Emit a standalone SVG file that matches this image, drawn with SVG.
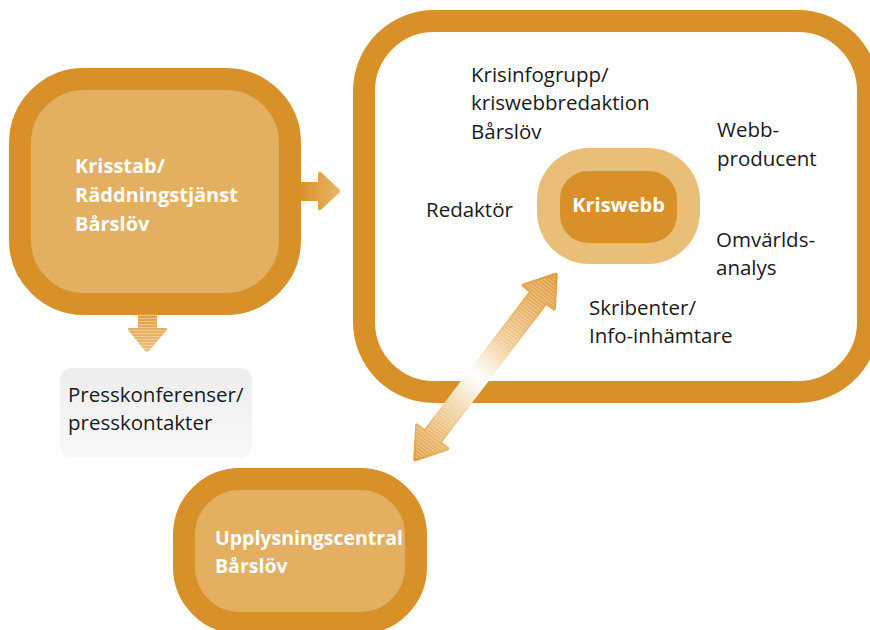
<svg xmlns="http://www.w3.org/2000/svg" width="870" height="630" viewBox="0 0 870 630">
  <defs>
    <style>
      .frame { fill: #E3B062; stroke: #D89128; stroke-width: 22; }
      .frame-open { fill: #FFFFFF; stroke: #D89128; stroke-width: 22; }
      .label-bold { font-family: "Open Sans", "Liberation Sans", sans-serif; font-weight: 700; font-size: 20px; fill: #FFFFFF; }
      .label { font-family: "Open Sans", "Liberation Sans", sans-serif; font-size: 20.5px; fill: #1A1A1A; }
    </style>
    <linearGradient id="gradRight" x1="300" y1="0" x2="342" y2="0" gradientUnits="userSpaceOnUse">
      <stop offset="0" stop-color="#D89128"/>
      <stop offset="1" stop-color="#EAB96E"/>
    </linearGradient>
    <linearGradient id="gradDown" x1="0" y1="314" x2="0" y2="354" gradientUnits="userSpaceOnUse">
      <stop offset="0" stop-color="#E0A045"/>
      <stop offset="1" stop-color="#EDC27E"/>
    </linearGradient>
    <linearGradient id="gradBoth" x1="-118" y1="0" x2="118" y2="0" gradientUnits="userSpaceOnUse">
      <stop offset="0" stop-color="#DF9E45"/>
      <stop offset="0.12" stop-color="#E9B469"/>
      <stop offset="0.3" stop-color="#F4DAB0"/>
      <stop offset="0.45" stop-color="#FFFFFF"/>
      <stop offset="0.62" stop-color="#F1D09C"/>
      <stop offset="0.85" stop-color="#E5AA58"/>
      <stop offset="1" stop-color="#DD9A3C"/>
    </linearGradient>
    <linearGradient id="gradPress" x1="0" y1="0" x2="0" y2="1">
      <stop offset="0" stop-color="#EDEDED"/>
      <stop offset="1" stop-color="#F9F9F9"/>
    </linearGradient>
    <pattern id="stripesH" width="6" height="3" patternUnits="userSpaceOnUse">
      <rect x="0" y="0" width="6" height="1" fill="#FFFFFF" fill-opacity="0.35"/>
    </pattern>
    <pattern id="stripesV" width="3" height="6" patternUnits="userSpaceOnUse">
      <rect x="0" y="0" width="1" height="6" fill="#FFFFFF" fill-opacity="0.35"/>
    </pattern>
  </defs>

  <!-- Krisstab / Räddningstjänst -->
  <g id="krisstab">
    <rect class="frame" x="20" y="79" width="270" height="225" rx="64" ry="64"/>
    <text class="label-bold" x="75" y="173">Krisstab/</text>
    <text class="label-bold" x="75" y="202">Räddningstjänst</text>
    <text class="label-bold" x="75" y="231">Bårslöv</text>
  </g>

  <!-- Press conferences -->
  <g id="press">
    <rect x="60" y="368" width="192" height="90" rx="12" ry="12" fill="url(#gradPress)"/>
    <text class="label" x="68" y="402">Presskonferenser/</text>
    <text class="label" x="68" y="430">presskontakter</text>
  </g>

  <!-- Crisis information group -->
  <g id="krisinfogrupp">
    <rect class="frame-open" x="364" y="21" width="504" height="371" rx="70" ry="70"/>
    <text class="label" x="471" y="82">Krisinfogrupp/</text>
    <text class="label" x="471" y="110">kriswebbredaktion</text>
    <text class="label" x="471" y="139">Bårslöv</text>
    <text class="label" x="426" y="217">Redaktör</text>
    <text class="label" x="717" y="137">Webb-</text>
    <text class="label" x="717" y="166">producent</text>
    <text class="label" x="716" y="247">Omvärlds-</text>
    <text class="label" x="716" y="275">analys</text>
    <text class="label" x="589" y="315">Skribenter/</text>
    <text class="label" x="589" y="343">Info-inhämtare</text>
  </g>

  <!-- Kriswebb -->
  <g id="kriswebb">
    <rect x="537" y="148" width="163" height="116" rx="52" ry="52" fill="#E9BE76"/>
    <rect x="560" y="171" width="117" height="72" rx="28" ry="28" fill="#D89128"/>
    <text class="label-bold" x="618.5" y="212" text-anchor="middle">Kriswebb</text>
  </g>

  <!-- Information centre -->
  <g id="upplysningscentral">
    <rect class="frame" x="184" y="479" width="232" height="144" rx="56" ry="56"/>
    <text class="label-bold" x="215" y="545" style="font-size:19.5px">Upplysningscentral</text>
    <text class="label-bold" x="215" y="573" style="font-size:19.5px">Bårslöv</text>
  </g>

  <!-- Connectors, drawn above the node frames -->
  <g id="connectors">
    <!-- Krisstab to crisis web group -->
    <path d="M300,182 H318 V174 Q318,170 322,173 L339,189 Q341,191 339,193 L322,209 Q318,212 318,208 V201 H300 Z" fill="url(#gradRight)"/>
    <!-- Krisstab to press contacts -->
    <g>
      <path d="M138,314 H157 V328 H165 Q169,328 166,331 L149,351 Q147,353 145,351 L129,331 Q126,328 130,328 H138 Z" fill="url(#gradDown)"/>
      <path d="M138,314 H157 V328 H165 Q169,328 166,331 L149,351 Q147,353 145,351 L129,331 Q126,328 130,328 H138 Z" fill="url(#stripesH)"/>
    </g>
    <!-- Kriswebb to information centre, two-way -->
    <g transform="translate(485.5 367) rotate(-52.7)">
      <path d="M116,0 L88,-19 L88,-9 L-88,-9 L-88,-19 L-116,0 L-88,19 L-88,9 L88,9 L88,19 Z" fill="url(#gradBoth)" stroke="url(#gradBoth)" stroke-width="4" stroke-linejoin="round"/>
      <path d="M116,0 L88,-19 L88,-9 L-88,-9 L-88,-19 L-116,0 L-88,19 L-88,9 L88,9 L88,19 Z" fill="url(#stripesV)"/>
    </g>
  </g>
</svg>
